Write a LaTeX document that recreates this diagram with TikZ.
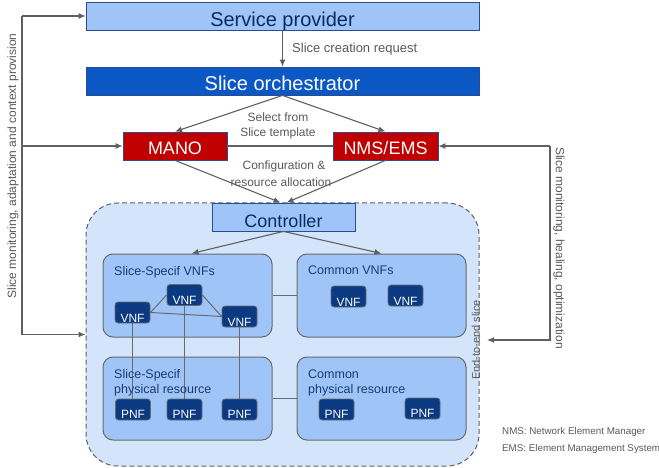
\documentclass[tikz,border=0pt]{standalone}
\usepackage{fontspec}
\setmainfont{Liberation Sans}
\usetikzlibrary{arrows.meta,calc}
\definecolor{lightblue}{HTML}{9FC5F8}
\definecolor{e2efill}{HTML}{D4E4FB}
\definecolor{orchblue}{HTML}{0B57C4}
\definecolor{manored}{HTML}{C00000}
\definecolor{boxborder}{HTML}{2A4D8F}
\definecolor{navy}{HTML}{0B2A63}
\definecolor{titlenavy}{HTML}{1A3A70}
\definecolor{vnfblue}{HTML}{0B3A82}
\definecolor{linegray}{HTML}{606060}
\definecolor{labelgray}{HTML}{595959}
\definecolor{groupborder}{HTML}{6A6A6A}
\begin{document}
\begin{tikzpicture}[x=1pt,y=-1pt,
  conn/.style={draw=linegray, line width=1.1pt},
  thinconn/.style={draw=groupborder, line width=1pt},
  arr/.style={conn, -{Latex[length=7pt,width=6pt]}},
  topbox/.style={draw=boxborder, line width=0.8pt, inner sep=0pt, text depth=0pt},
  groupbox/.style={draw=groupborder, line width=1pt, fill=lightblue, rounded corners=10pt,
    minimum width=169, minimum height=83, inner sep=0pt},
  fnbox/.style={draw=groupborder, line width=0.8pt, fill=vnfblue, rounded corners=3pt,
    minimum width=35, minimum height=21, inner sep=0pt, text=white, text depth=0pt,
    font=\fontsize{12}{14}\selectfont},
  vnfbox/.style={fnbox, text height=19pt},
  pnfbox/.style={fnbox, text height=17pt},
  grouptitle/.style={anchor=base west, inner sep=0pt, text=titlenavy, font=\fontsize{12.5}{15}\selectfont},
  graylabel/.style={inner sep=0pt, text=labelgray, font=\fontsize{12}{14}\selectfont},
  legendtext/.style={anchor=base west, inner sep=0pt, text=labelgray, font=\fontsize{9.8}{12}\selectfont}
]
\useasboundingbox (0,0) rectangle (659,468);

% top boxes
\node[topbox, fill=lightblue, text=navy, minimum width=393, minimum height=28,
  text height=22pt, font=\fontsize{20}{24}\selectfont] (sp) at (282.5,16) {Service provider};
\node[topbox, fill=orchblue, text=white, minimum width=393, minimum height=28,
  text height=20pt, font=\fontsize{20}{24}\selectfont] (orch) at (282.5,81) {Slice orchestrator};
\node[topbox, fill=manored, text=white, minimum width=104, minimum height=28,
  text height=18pt, font=\fontsize{18}{22}\selectfont] (mano) at (175,146) {MANO};
\node[topbox, fill=manored, text=white, minimum width=105, minimum height=28,
  text height=18pt, font=\fontsize{18}{22}\selectfont] (nms) at (385.5,146) {NMS/EMS};

% end-to-end slice
\node[draw=linegray, line width=1pt, dash pattern=on 5pt off 3pt, fill=e2efill,
  rounded corners=32pt, minimum width=393, minimum height=263, inner sep=0pt] (e2e) at (282.5,334.5) {};

\node[topbox, fill=lightblue, text=navy, minimum width=143, minimum height=28,
  text height=20pt, font=\fontsize{18}{22}\selectfont] (ctrl) at (283.5,217) {Controller};

% group boxes
\node[groupbox] (ssv) at (187.5,295.5) {};
\node[groupbox] (cv) at (381.5,295.5) {};
\node[groupbox] (ssp) at (187.5,398.5) {};
\node[groupbox] (cp) at (381.5,398.5) {};

% VNF / PNF
\node[vnfbox] (v1) at (132.5,312.5) {VNF};
\node[vnfbox] (v2) at (184.5,295) {VNF};
\node[vnfbox] (v3) at (239.5,316.5) {VNF};
\node[vnfbox] (cv1) at (348.5,296.5) {VNF};
\node[vnfbox] (cv2) at (405.5,295.5) {VNF};
\node[pnfbox] (p1) at (133,409.5) {PNF};
\node[pnfbox] (p2) at (184.5,409.5) {PNF};
\node[pnfbox] (p3) at (239.5,409.5) {PNF};
\node[pnfbox] (cp1) at (336.5,409.5) {PNF};
\node[pnfbox] (cp2) at (422.5,408.5) {PNF};

% inner connectors
\draw[thinconn] (ssv.east) -- (cv.west);
\draw[thinconn] (ssp.east) -- (cp.west);
\draw[thinconn] (v1.east) -- (v2.west);
\draw[thinconn] (v2.east) -- (v3.west);
\draw[thinconn] (v1.east) -- (v3.west);
\draw[thinconn] (v1.south) -- (v1.south |- p1.north);
\draw[thinconn] (v2.south) -- (v2.south |- p2.north);
\draw[thinconn] (v3.south) -- (v3.south |- p3.north);

% group titles
\node[grouptitle] (ssvt) at (114,275) {Slice-Specif VNFs};
\node[grouptitle] (cvt) at (308,274) {Common VNFs};
\node[grouptitle] (sspt1) at (114,378) {Slice-Specif};
\node[grouptitle] (sspt2) at (114,393) {physical resource};
\node[grouptitle] (cpt1) at (308,378) {Common};
\node[grouptitle] (cpt2) at (308,393) {physical resource};

% main connectors
\draw[arr] (sp.south) -- (orch.north);
\draw[arr] (orch.south) -- (mano.north);
\draw[arr] (orch.south) -- (nms.north);
\draw[conn] (mano.east) -- (nms.west);
\draw[arr] (mano.south) -- ($(ctrl.north)+(-3,0)$);
\draw[arr] (nms.south) -- ($(ctrl.north)+(3,0)$);
\draw[arr] (ctrl.south) -- ($(ssv.north)+(4,0)$);
\draw[arr] (ctrl.south) -- (cv.north);

% left feedback loop
\coordinate (ltop) at (22,16);
\draw[conn] (ltop) -- (ltop |- e2e.west);
\draw[arr] (ltop) -- (sp.west);
\draw[arr] (ltop |- mano.west) -- (mano.west);
\draw[arr] (ltop |- e2e.west) -- (e2e.west);

% right feedback loop
\coordinate (rtop) at (550,146);
\coordinate (rin) at (487,340);
\draw[arr] (rtop) -- (nms.east);
\draw[arr] (rtop) -- (rtop |- rin) -- (rin);

% labels
\node[graylabel, anchor=base west, font=\fontsize{13}{15}\selectfont] (lreq) at (292,53) {Slice creation request};
\node[graylabel, anchor=base] (lsel1) at (278,122) {Select from};
\node[graylabel, anchor=base] (lsel2) at (278,137) {Slice template};
\node[graylabel, anchor=base] (lcfg1) at (284,170) {Configuration \&};
\node[graylabel, anchor=base] (lcfg2) at (281,186) {resource allocation};
\node[graylabel, rotate=90] (lleft) at (13,166) {Slice monitoring, adaptation and context provision};
\node[graylabel, rotate=-90] (lright) at (559,248) {Slice monitoring, healing, optimization};
\node[graylabel, rotate=90, font=\fontsize{11}{13}\selectfont] (le2e) at (476,340) {End-to-end slice};

% legend
\node[legendtext] (leg1) at (502,434) {NMS: Network Element Manager};
\node[legendtext] (leg2) at (502,451) {EMS: Element Management System};
\end{tikzpicture}
\end{document}
